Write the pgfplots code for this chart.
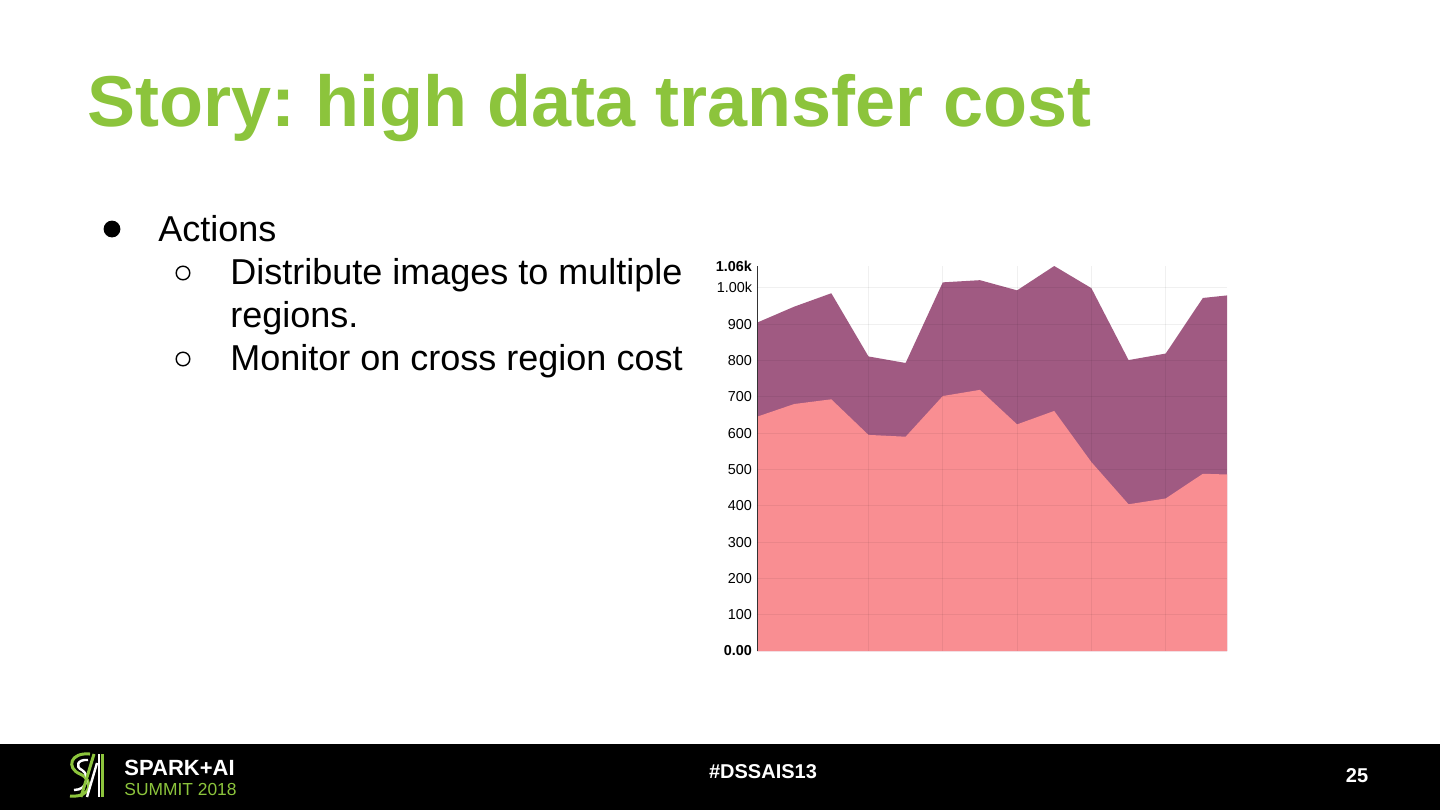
\documentclass[border=0pt]{standalone}
\usepackage{pgfplots}
\pgfplotsset{compat=1.18}
\usepackage{fontspec}
\setmainfont{Liberation Sans}
\definecolor{sparkgreen}{HTML}{8CC43C}
\definecolor{costpurple}{HTML}{A05A82}
\definecolor{costpink}{HTML}{F98E92}
\frenchspacing

\begin{document}
\begin{tikzpicture}[x=0.5pt,y=-0.5pt]
% slide background and footer band
\fill[white] (0,0) rectangle (1440,810);
\fill[black] (0,744) rectangle (1440,810);

% title
\node[anchor=base west, inner sep=0, text=sparkgreen,
      font=\fontsize{36}{40}\selectfont\bfseries] at (87,126) {Story: high data transfer cost};

% bullets
\fill[black] (112,229) circle (4.2pt);
\node[anchor=base west, inner sep=0, font=\fontsize{18}{20}\selectfont] at (158,241) {Actions};
\draw[black, line width=0.7pt] (183,273) circle (3.4pt);
\node[anchor=base west, inner sep=0, font=\fontsize{18}{20}\selectfont] at (230,284) {Distribute images to multiple};
\node[anchor=base west, inner sep=0, font=\fontsize{18}{20}\selectfont] at (230,327) {regions.};
\draw[black, line width=0.7pt] (183,359) circle (3.4pt);
\node[anchor=base west, inner sep=0, font=\fontsize{18}{20}\selectfont] at (230,370) {Monitor on cross region cost};

% chart
\begin{axis}[
    at={(378.5pt,-325.5pt)}, anchor=south west,
    scale only axis, width=235pt, height=192.5pt,
    xmin=0, xmax=12.65, ymin=0, ymax=1060,
    xtick={3,5,7,9,11}, xticklabels={},
    ytick={100,200,...,1000},
    yticklabels={100,200,300,400,500,600,700,800,900,1.00k},
    extra y ticks={0,1060},
    extra y tick labels={\textbf{0.00},\textbf{1.06k}},
    extra y tick style={grid=none},
    xmajorgrids, ymajorgrids,
    grid style={black, opacity=0.06, line width=0.5pt},
    major tick length=0pt,
    axis line style={draw=none},
    tick label style={font=\fontsize{7.2}{8}\selectfont},
    yticklabel style={inner sep=0pt, xshift=-2.3pt},
    axis on top,
]
\addplot[draw=none, fill=costpurple] coordinates {
    (0,904)(1,948)(2,985)(3,811)(4,793)(5,1015)(6,1021)
    (7,993)(8,1060)(9,999)(10,801)(11,819)(12,972)(12.65,979)
} \closedcycle;
\addplot[draw=none, fill=costpink] coordinates {
    (0,645)(1,680)(2,693)(3,595)(4,590)(5,702)(6,719)
    (7,624)(8,661)(9,520)(10,404)(11,420)(12,488)(12.65,486)
} \closedcycle;
\draw[black!80, line width=0.8pt] (rel axis cs:0,0) -- (rel axis cs:0,1);
\end{axis}

% footer
\node[anchor=center, text=white, font=\fontsize{10}{12}\selectfont\bfseries] at (763,772) {\#DSSAIS13};
\node[anchor=center, text=white, font=\fontsize{10}{12}\selectfont\bfseries] at (1357,776) {25};

% logo
\draw[sparkgreen, line width=1.5pt] (90,754) .. controls (70,752) and (66,768) .. (80,774)
    .. controls (94,780) and (92,798) .. (70,796);
\draw[white, line width=1.2pt] (88,760) .. controls (77,759) and (75,767) .. (82,770)
    .. controls (90,775) and (88,790) .. (74,790);
\draw[sparkgreen, line width=1.5pt] (81,797) -- (94,754);
\draw[white, line width=1.2pt] (87,797) -- (97,763);
\draw[white, line width=1.2pt] (99,754) -- (99,797);
\draw[sparkgreen, line width=1.5pt] (102.5,754) -- (102.5,797);
\node[anchor=base west, inner sep=0, text=white, font=\fontsize{11}{12}\selectfont\bfseries] at (124,775) {SPARK+AI};
\node[anchor=base west, inner sep=0, text=sparkgreen, font=\fontsize{8.7}{10}\selectfont] at (124,795) {SUMMIT 2018};
\end{tikzpicture}
\end{document}
